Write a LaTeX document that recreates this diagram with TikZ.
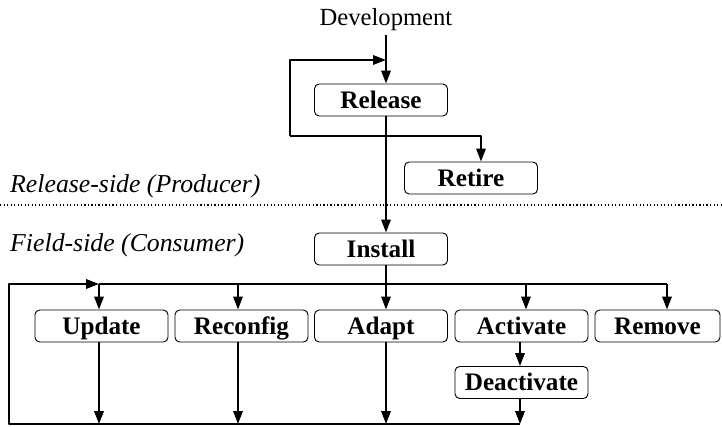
\documentclass[tikz,border=0pt]{standalone}
\usepackage{fontspec}
\setmainfont{Liberation Serif}
\usetikzlibrary{arrows.meta}
\begin{document}
\begin{tikzpicture}[x=0.03cm, y=-0.03cm, line join=round, >={Triangle[length=11pt,width=8pt]},
	font=\fontsize{21}{25}\selectfont,
	box/.style={draw, rounded corners=4pt, line width=0.8pt, minimum width=3.99cm, minimum height=0.96cm,
		inner sep=0pt, text height=14pt, text depth=0pt, font=\fontsize{21.5}{25}\selectfont\bfseries},
	side/.style={anchor=west, inner sep=0pt, font=\fontsize{22}{26}\selectfont\itshape},
	flow/.style={line width=1.7pt}]
	\useasboundingbox (0,0) rectangle (722,427);
	% nodes
	\node (dev) at (386,20) {Development};
	\node[box] (rel) at (381,100) {Release};
	\node[box] (ret) at (471,178) {Retire};
	\node[box] (ins) at (381,249) {Install};
	\node[box] (upd) at (101.5,326) {Update};
	\node[box] (rec) at (241.5,326) {Reconfig};
	\node[box] (ada) at (381,326) {Adapt};
	\node[box] (act) at (521.5,326) {Activate};
	\node[box, minimum width=3.75cm] (rem) at (657.5,326) {Remove};
	\node[box] (dea) at (521.5,382.5) {Deactivate};
	\node[side] (rside) at (10,186) {Release-side (Producer)};
	\node[side] (fside) at (10,245) {Field-side (Consumer)};
	\path
	(386,60) coordinate (jt)
	(290,136) coordinate (lb)
	(481,136) coordinate (rb)
	(0,205) coordinate (dl)
	(722,205) coordinate (dr)
	(9,284) coordinate (tl)
	(9,424) coordinate (bl)
	(99,284) coordinate (tupd)
	(238,284) coordinate (trec)
	(386,284) coordinate (tada)
	(526,284) coordinate (tact)
	(667,284) coordinate (trem)
	(99,424) coordinate (bupd)
	(238,424) coordinate (brec)
	(386,424) coordinate (bada)
	(520,424) coordinate (bdea)
	;
	% release side
	\draw[dotted, line width=1pt] (dl)--(dr);
	\draw[flow,->] (dev.south)--(rel.north -| dev.south);
	\draw[flow,->] (lb) |- (jt);
	\draw[flow,->] (lb) -| (ret.north -| rb);
	\draw[flow,->] (rel.south -| jt)--(ins.north -| jt);
	% field side
	\draw[flow] (ins.south -| jt)--(tada);
	\draw[flow,->] (bdea)--(bl)--(tl)--(tupd);
	\draw[flow] (tupd)--(trem);
	\foreach \n in {upd,rec,ada,act,rem}
	\draw[flow,->] (t\n)--(\n.north -| t\n);
	\foreach \n in {upd,rec,ada,dea}
	\draw[flow,->] (\n.south -| b\n)--(b\n);
	\draw[flow,->] (act.south -| bdea)--(dea.north -| bdea);
\end{tikzpicture}
\end{document}
